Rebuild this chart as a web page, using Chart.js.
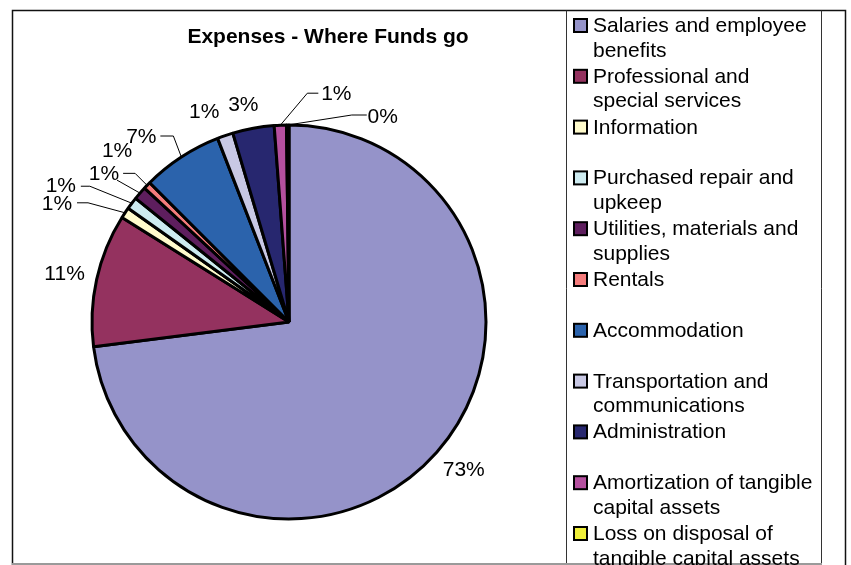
<!DOCTYPE html>
<html>
<head>
<meta charset="utf-8">
<title>Expenses - Where Funds go</title>
<script src="https://cdn.jsdelivr.net/npm/chart.js@4.4.0/dist/chart.umd.min.js"></script>
<style>
  html, body { margin: 0; padding: 0; background: #fff; }
  #wrap { width: 851px; height: 565px; }
</style>
</head>
<body>
<div id="wrap"><canvas id="myChart" width="851" height="565"></canvas></div>
<script>
var chartTitle = 'Expenses - Where Funds go';

var categories = [
  'Salaries and employee benefits',
  'Professional and special services',
  'Information',
  'Purchased repair and upkeep',
  'Utilities, materials and supplies',
  'Rentals',
  'Accommodation',
  'Transportation and communications',
  'Administration',
  'Amortization of tangible capital assets',
  'Loss on disposal of tangible capital assets'
];

// share of total, in percent
var shares = [73.0, 10.9, 0.9, 1.0, 1.1, 0.6, 6.6, 1.3, 3.4, 1.0, 0.2];

var colors = ['#9593c9', '#94325f', '#fffbcc', '#cdebf0', '#5e1e5e', '#f47c7c',
              '#2b63ac', '#c8c8e4', '#27276f', '#b5509f', '#eeee3a'];

// where each % label sits, measured from the slice edge at its middle angle
var labelShift = [[27, 17], [-32, -6], [-68, -10], [-71, -18], [-36, -20], [-30, -35],
                  [-40, -21], [-21, -24], [-10, -24], [56, -32], [95, -9]];
// leader line points, relative to the label centre; the line then runs to the slice
var leaders = [null, null, [[20, 0], [31, 0]], [[20, 1], [29, 1]], [[13, 7]], [[6, 23], [18, 23]],
               [[19, 0], [32, 0]], null, null, [[-18, 0], [-29, 0]], [[-16, -1], [-31, -1]]];

var FONT = '"Liberation Sans", Arial, sans-serif';

function wrapText(ctx, text, maxW) {
  var words = text.split(' ');
  var lines = [];
  var cur = '';
  for (var i = 0; i < words.length; i++) {
    var test = cur ? cur + ' ' + words[i] : words[i];
    if (cur && ctx.measureText(test).width > maxW) {
      lines.push(cur);
      cur = words[i];
    } else {
      cur = test;
    }
  }
  if (cur) lines.push(cur);
  return lines;
}

var framePlugin = {
  id: 'frame',
  beforeDraw: function(chart) {
    var ctx = chart.ctx;
    ctx.save();
    ctx.fillStyle = '#fff';
    ctx.fillRect(0, 0, chart.width, chart.height);
    ctx.restore();
  },
  afterDraw: function(chart) {
    var ctx = chart.ctx;
    var meta = chart.getDatasetMeta(0);
    var data = chart.data.datasets[0].data;
    var total = 0;
    for (var i = 0; i < data.length; i++) total += data[i];

    ctx.save();

    // outer frame and legend box
    ctx.strokeStyle = '#111';
    ctx.lineWidth = 1.5;
    ctx.beginPath();
    ctx.moveTo(12.5, 580);
    ctx.lineTo(12.5, 10.5);
    ctx.lineTo(845.5, 10.5);
    ctx.lineTo(845.5, 580);
    ctx.stroke();
    ctx.lineWidth = 1;
    ctx.strokeStyle = '#333';
    ctx.beginPath();
    ctx.moveTo(566.5, 10.5);
    ctx.lineTo(566.5, 580);
    ctx.moveTo(821.5, 10.5);
    ctx.lineTo(821.5, 580);
    ctx.stroke();
    ctx.strokeStyle = '#9a9a9a';
    ctx.lineWidth = 2;
    ctx.beginPath();
    ctx.moveTo(12, 564);
    ctx.lineTo(822, 564);
    ctx.stroke();

    // title
    ctx.fillStyle = '#000';
    ctx.font = 'bold 21px ' + FONT;
    ctx.textAlign = 'center';
    ctx.textBaseline = 'alphabetic';
    ctx.fillText(chartTitle, 328, 43);

    // percentage labels and leader lines
    ctx.font = '21px ' + FONT;
    ctx.textBaseline = 'middle';
    ctx.strokeStyle = '#000';
    ctx.lineWidth = 1;
    for (var j = 0; j < meta.data.length; j++) {
      var arc = meta.data[j];
      var mid = (arc.startAngle + arc.endAngle) / 2;
      var ex = arc.x + Math.cos(mid) * arc.outerRadius;
      var ey = arc.y + Math.sin(mid) * arc.outerRadius;
      var lx = ex + labelShift[j][0];
      var ly = ey + labelShift[j][1];
      if (leaders[j]) {
        ctx.beginPath();
        ctx.moveTo(lx + leaders[j][0][0], ly + leaders[j][0][1]);
        for (var k = 1; k < leaders[j].length; k++) {
          ctx.lineTo(lx + leaders[j][k][0], ly + leaders[j][k][1]);
        }
        ctx.lineTo(ex, ey);
        ctx.stroke();
      }
      ctx.fillText(Math.round(data[j] / total * 100) + '%', lx, ly + 1);
    }

    // legend
    ctx.textAlign = 'left';
    ctx.textBaseline = 'alphabetic';
    for (var n = 0; n < chart.data.labels.length; n++) {
      var base = 32 + n * 50.8;
      ctx.fillStyle = colors[n];
      ctx.fillRect(574, base - 13, 13, 13);
      ctx.lineWidth = 2;
      ctx.strokeStyle = '#000';
      ctx.strokeRect(574, base - 13, 13, 13);
      ctx.fillStyle = '#000';
      var lines = wrapText(ctx, chart.data.labels[n], 226);
      for (var m = 0; m < lines.length; m++) {
        ctx.fillText(lines[m], 593, base + m * 24.5);
      }
    }

    ctx.restore();
  }
};

var ctx = document.getElementById('myChart').getContext('2d');
var myChart = new Chart(ctx, {
  type: 'pie',
  data: {
    labels: categories,
    datasets: [{
      data: shares,
      backgroundColor: colors,
      borderColor: '#000',
      borderWidth: 3
    }]
  },
  options: {
    responsive: false,
    animation: false,
    devicePixelRatio: 1,
    radius: 197,
    layout: {
      padding: { left: 92, top: 125, right: 365, bottom: 46 }
    },
    plugins: {
      legend: { display: false },
      title: { display: false },
      tooltip: { enabled: false }
    }
  },
  plugins: [framePlugin]
});
</script>
</body>
</html>
